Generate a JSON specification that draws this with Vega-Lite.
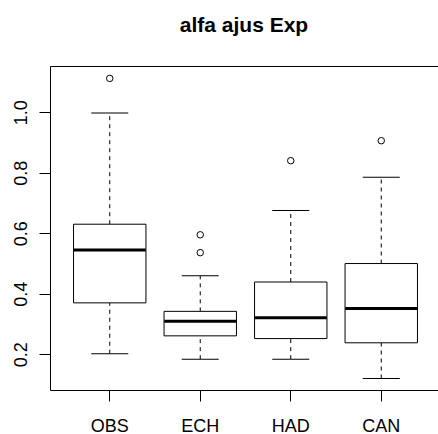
{
  "$schema": "https://vega.github.io/schema/vega-lite/v6.json",
  "autosize": "none",
  "padding": {"left": 50, "top": 66, "right": 0, "bottom": 44},
  "width": 388,
  "height": 324,
  "title": {"text": "alfa ajus Exp", "font": "Liberation Sans", "fontSize": 21, "fontWeight": "bold", "color": "black", "anchor": "middle", "baseline": "alphabetic", "offset": 13},
  "datasets": {
    "boxes": [
      {"group": "OBS", "lo": 0.202, "q1": 0.370, "med": 0.545, "q3": 0.630, "hi": 0.998},
      {"group": "ECH", "lo": 0.184, "q1": 0.261, "med": 0.309, "q3": 0.342, "hi": 0.460},
      {"group": "HAD", "lo": 0.184, "q1": 0.252, "med": 0.321, "q3": 0.439, "hi": 0.675},
      {"group": "CAN", "lo": 0.120, "q1": 0.238, "med": 0.351, "q3": 0.500, "hi": 0.785}
    ],
    "outliers": [
      {"group": "OBS", "value": 1.112},
      {"group": "ECH", "value": 0.595},
      {"group": "ECH", "value": 0.536},
      {"group": "HAD", "value": 0.840},
      {"group": "CAN", "value": 0.906}
    ]
  },
  "encoding": {
    "x": {"field": "group", "type": "nominal", "sort": ["OBS", "ECH", "HAD", "CAN"],
      "scale": {"paddingInner": 0.2, "paddingOuter": 0.2435, "align": 0.534},
      "axis": {"title": null, "domain": false, "tickSize": 11, "tickColor": "black", "labelAngle": 0, "labelFont": "Liberation Sans", "labelFontSize": 18, "labelColor": "black", "labelPadding": 16}
    }
  },
  "layer": [
    {
      "data": {"name": "boxes"},
      "mark": {"type": "rule", "strokeDash": [4, 4], "color": "black", "strokeWidth": 1, "opacity": 1},
      "encoding": {
        "y": {"field": "q3", "type": "quantitative", "scale": {"domain": [0.082, 1.153], "nice": false, "zero": false},
          "axis": {"title": null, "domain": false, "grid": false, "values": [0.2, 0.4, 0.6, 0.8, 1.0], "format": ".1f", "tickSize": 11, "tickColor": "black", "labelAngle": 270, "labelAlign": "center", "labelBaseline": "alphabetic", "labelPadding": 13, "labelFont": "Liberation Sans", "labelFontSize": 18, "labelColor": "black"}},
        "y2": {"field": "hi"}
      }
    },
    {
      "data": {"name": "boxes"},
      "mark": {"type": "rule", "strokeDash": [4, 4], "color": "black", "strokeWidth": 1, "opacity": 1},
      "encoding": {
        "y": {"field": "lo", "type": "quantitative", "scale": {"domain": [0.082, 1.153], "nice": false, "zero": false},
          "axis": {"title": null, "domain": false, "grid": false, "values": [0.2, 0.4, 0.6, 0.8, 1.0], "format": ".1f", "tickSize": 11, "tickColor": "black", "labelAngle": 270, "labelAlign": "center", "labelBaseline": "alphabetic", "labelPadding": 13, "labelFont": "Liberation Sans", "labelFontSize": 18, "labelColor": "black"}},
        "y2": {"field": "q1"}
      }
    },
    {
      "data": {"name": "boxes"},
      "mark": {"type": "bar", "fill": "white", "stroke": "black", "strokeWidth": 1, "opacity": 1},
      "encoding": {
        "y": {"field": "q1", "type": "quantitative", "scale": {"domain": [0.082, 1.153], "nice": false, "zero": false},
          "axis": {"title": null, "domain": false, "grid": false, "values": [0.2, 0.4, 0.6, 0.8, 1.0], "format": ".1f", "tickSize": 11, "tickColor": "black", "labelAngle": 270, "labelAlign": "center", "labelBaseline": "alphabetic", "labelPadding": 13, "labelFont": "Liberation Sans", "labelFontSize": 18, "labelColor": "black"}},
        "y2": {"field": "q3"}
      }
    },
    {
      "data": {"name": "boxes"},
      "mark": {"type": "tick", "color": "black", "size": 72, "thickness": 3, "opacity": 1},
      "encoding": {"y": {"field": "med", "type": "quantitative", "scale": {"domain": [0.082, 1.153], "nice": false, "zero": false},
          "axis": {"title": null, "domain": false, "grid": false, "values": [0.2, 0.4, 0.6, 0.8, 1.0], "format": ".1f", "tickSize": 11, "tickColor": "black", "labelAngle": 270, "labelAlign": "center", "labelBaseline": "alphabetic", "labelPadding": 13, "labelFont": "Liberation Sans", "labelFontSize": 18, "labelColor": "black"}}}
    },
    {
      "data": {"name": "boxes"},
      "mark": {"type": "tick", "color": "black", "size": 37, "thickness": 1, "opacity": 1},
      "encoding": {"y": {"field": "hi", "type": "quantitative", "scale": {"domain": [0.082, 1.153], "nice": false, "zero": false},
          "axis": {"title": null, "domain": false, "grid": false, "values": [0.2, 0.4, 0.6, 0.8, 1.0], "format": ".1f", "tickSize": 11, "tickColor": "black", "labelAngle": 270, "labelAlign": "center", "labelBaseline": "alphabetic", "labelPadding": 13, "labelFont": "Liberation Sans", "labelFontSize": 18, "labelColor": "black"}}}
    },
    {
      "data": {"name": "boxes"},
      "mark": {"type": "tick", "color": "black", "size": 37, "thickness": 1, "opacity": 1},
      "encoding": {"y": {"field": "lo", "type": "quantitative", "scale": {"domain": [0.082, 1.153], "nice": false, "zero": false},
          "axis": {"title": null, "domain": false, "grid": false, "values": [0.2, 0.4, 0.6, 0.8, 1.0], "format": ".1f", "tickSize": 11, "tickColor": "black", "labelAngle": 270, "labelAlign": "center", "labelBaseline": "alphabetic", "labelPadding": 13, "labelFont": "Liberation Sans", "labelFontSize": 18, "labelColor": "black"}}}
    },
    {
      "data": {"name": "outliers"},
      "mark": {"type": "point", "shape": "circle", "filled": false, "stroke": "black", "strokeWidth": 1, "size": 42, "opacity": 1},
      "encoding": {"y": {"field": "value", "type": "quantitative", "scale": {"domain": [0.082, 1.153], "nice": false, "zero": false},
          "axis": {"title": null, "domain": false, "grid": false, "values": [0.2, 0.4, 0.6, 0.8, 1.0], "format": ".1f", "tickSize": 11, "tickColor": "black", "labelAngle": 270, "labelAlign": "center", "labelBaseline": "alphabetic", "labelPadding": 13, "labelFont": "Liberation Sans", "labelFontSize": 18, "labelColor": "black"}}}
    }
  ],
  "config": {
    "background": "white",
    "view": {"stroke": "black", "strokeWidth": 1},
    "axis": {"grid": false}
  }
}
